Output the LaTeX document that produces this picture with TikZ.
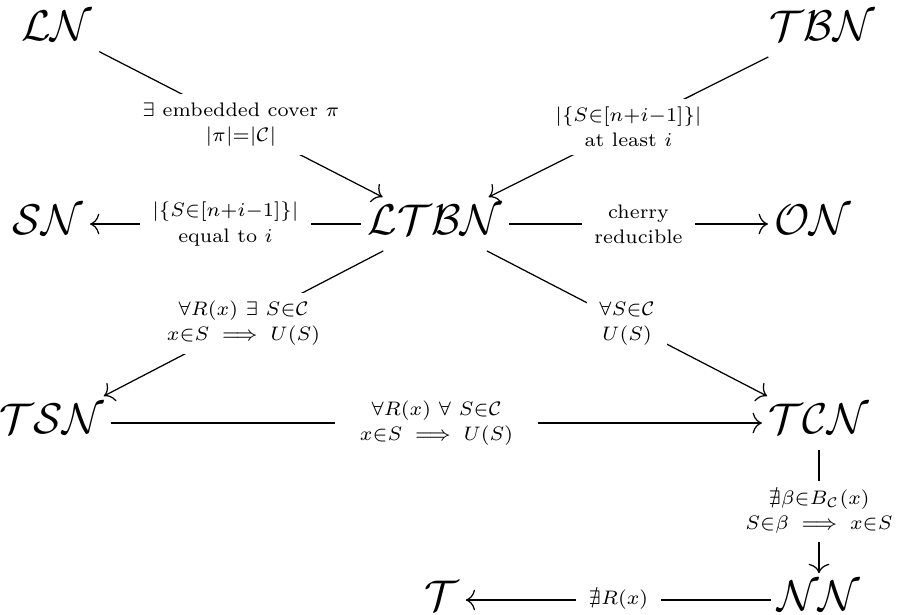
\documentclass[tikz,border=0pt]{standalone}
\usepackage{amsmath,amssymb}
\usetikzlibrary{arrows.meta}
\begin{document}
\begin{tikzpicture}[x=0.483pt,y=-0.483pt,
  obj/.style={font=\huge, text height=15pt, text depth=4.6pt, inner sep=3pt},
  lbl/.style={fill=white, align=center, font=\fontsize{7}{9}\selectfont, scale=1.35, transform shape, inner xsep=4.5pt, inner ysep=3pt},
  conn/.style={line width=0.6pt},
  arr/.style={conn, -{To[length=4.5pt,width=10pt]}}]
\useasboundingbox (0,0) rectangle (897,614);
\node[obj] (LN)   at (57,30)   {$\mathcal{LN}$};
\node[obj] (TBN)  at (822,30)  {$\mathcal{TBN}$};
\node[obj] (SN)   at (48,224)  {$\mathcal{SN}$};
\node[obj] (LTBN) at (435,224) {$\mathcal{LTBN}$};
\node[obj] (ON)   at (813,224) {$\mathcal{ON}$};
\node[obj] (TSN)  at (52,423)  {$\mathcal{TSN}$};
\node[obj] (TCN)  at (819,423) {$\mathcal{TCN}$};
\node[obj] (NN)   at (819,600) {$\mathcal{NN}$};
\node[obj] (T)    at (442,600) {$\mathcal{T}$};

\draw[arr] (LN) -- node[lbl] {$\exists$ embedded cover $\pi$\\ $|\pi|{=}|\mathcal{C}|$} (LTBN);
\draw[arr] (TBN) -- node[lbl] {$|\{S{\in}[n{+}i{-}1]\}|$\\ at least $i$} (LTBN);
\draw[arr] (LTBN) -- node[lbl] {$|\{S{\in}[n{+}i{-}1]\}|$\\ equal to $i$} (SN);
\draw[arr] (LTBN) -- node[lbl] {cherry\\ reducible} (ON);
\draw[arr] (LTBN) -- node[lbl] {$\forall R(x)\ \exists\ S{\in}\mathcal{C}$\\ $x{\in}S\implies U(S)$} (TSN);
\draw[arr] (LTBN) -- node[lbl] {$\forall S{\in}\mathcal{C}$\\ $U(S)$} (TCN);
\draw[arr] (TSN) -- node[lbl, inner xsep=9pt] {$\forall R(x)\ \forall\ S{\in}\mathcal{C}$\\ $x{\in}S\implies U(S)$} (TCN);
\draw[arr] (TCN) -- node[lbl] {$\nexists\beta{\in}B_{\mathcal{C}}(x)$\\ $S{\in}\beta\implies x{\in}S$} (NN);
\draw[arr] (NN) -- node[lbl] {$\nexists R(x)$} (T);
\end{tikzpicture}
\end{document}
